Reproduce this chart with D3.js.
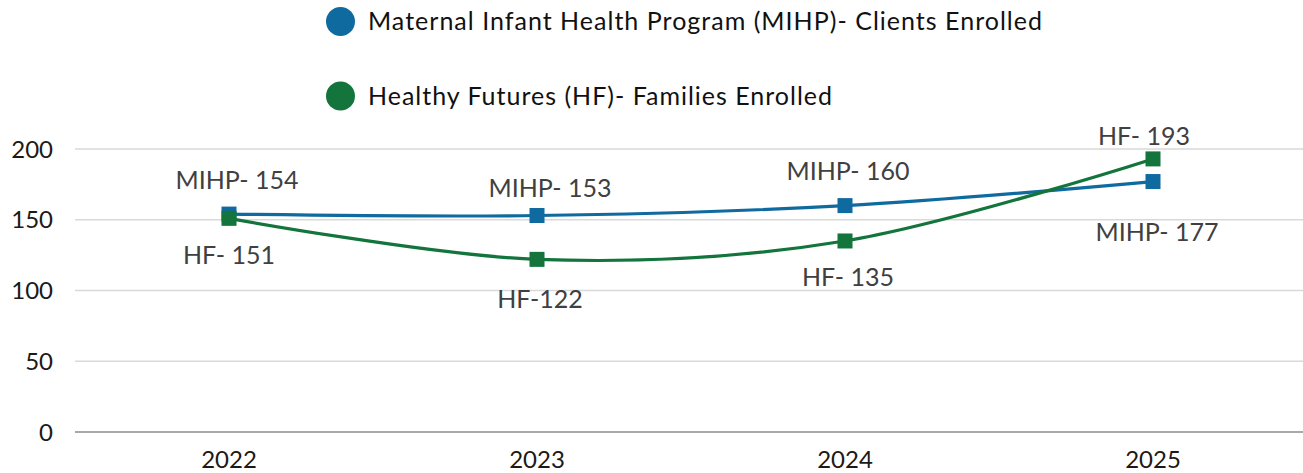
<!DOCTYPE html>
<html><head><meta charset="utf-8">
<script src="https://cdn.jsdelivr.net/npm/d3@7"></script>
<style>body{margin:0;background:#fff}svg{display:block}text{font-family:Lato,"Open Sans",sans-serif}</style>
</head><body>
<svg id="c" width="1303" height="473"></svg>
<script>
const years = ["2022","2023","2024","2025"];
const mihp = [154,153,160,177];
const hf = [151,122,135,193];
const mihpLabels = ["MIHP- 154","MIHP- 153","MIHP- 160","MIHP- 177"];
const hfLabels = ["HF- 151","HF-122","HF- 135","HF- 193"];
const yTicks = [0,50,100,150,200];
const seriesNames = ["Maternal Infant Health Program (MIHP)- Clients Enrolled","Healthy Futures (HF)- Families Enrolled"];

const colors = ["#0f6aa0","#13743c"];
// label placement offsets (dx, dy of text center from point)
const mihpOff = [[8,-34],[13,-28],[3,-35],[4,50]];
const hfOff = [[0,37],[3,40],[3,36],[-9,-23]];
const legendWidths = [674,464];

const svg = d3.select("#c");
const x = d3.scaleBand().domain(years).range([75,1307]);
const y = d3.scaleLinear().domain([0,200]).range([432,149]);
const cx = d => x(d) + x.bandwidth()/2;

// grid
svg.append("g").selectAll("line").data(yTicks.filter(t=>t>0)).join("line")
  .attr("x1",75).attr("x2",1303).attr("y1",d=>y(d)).attr("y2",d=>y(d))
  .attr("stroke","#d9d9d9").attr("stroke-width",1.3);
svg.append("line").attr("x1",75).attr("x2",1303).attr("y1",y(0)).attr("y2",y(0))
  .attr("stroke","#8c8c8c").attr("stroke-width",1.3);

// y tick labels
svg.append("g").selectAll("text").data(yTicks).join("text")
  .attr("x",53).attr("y",d=>y(d)+8.5).attr("text-anchor","end")
  .attr("font-size",24).attr("fill","#1a1a1a").text(d=>d);
// x labels
svg.append("g").selectAll("text").data(years).join("text")
  .attr("x",d=>cx(d)).attr("y",468).attr("text-anchor","middle")
  .attr("font-size",24).attr("fill","#1a1a1a").text(d=>d);

const line = d3.line().x((d,i)=>cx(years[i])).y(d=>y(d)).curve(d3.curveCatmullRom.alpha(0));
[[mihp,mihpLabels,mihpOff],[hf,hfLabels,hfOff]].forEach(([vals,labs,off],k)=>{
  svg.append("path").attr("d",line(vals)).attr("fill","none").attr("stroke",colors[k]).attr("stroke-width",3.2);
  svg.append("g").selectAll("rect").data(vals).join("rect")
    .attr("x",(d,i)=>cx(years[i])-7.5).attr("y",d=>y(d)-7.5).attr("width",15).attr("height",15)
    .attr("fill",colors[k]);
  svg.append("g").selectAll("text").data(vals).join("text")
    .attr("x",(d,i)=>cx(years[i])+off[i][0]).attr("y",(d,i)=>y(d)+off[i][1]+9)
    .attr("text-anchor","middle").attr("font-size",25).attr("fill","#404040").text((d,i)=>labs[i]);
});

// legend
const lg = svg.append("g");
seriesNames.forEach((n,i)=>{
  const yy = [21.5,96][i];
  lg.append("circle").attr("cx",340.5).attr("cy",yy).attr("r",14.5).attr("fill",colors[i]);
  lg.append("text").attr("x",368).attr("y",yy+8.5).attr("font-size",25).attr("fill","#111")
    .attr("textLength",legendWidths[i]).attr("lengthAdjust","spacing").text(n);
});
</script>
</body></html>
